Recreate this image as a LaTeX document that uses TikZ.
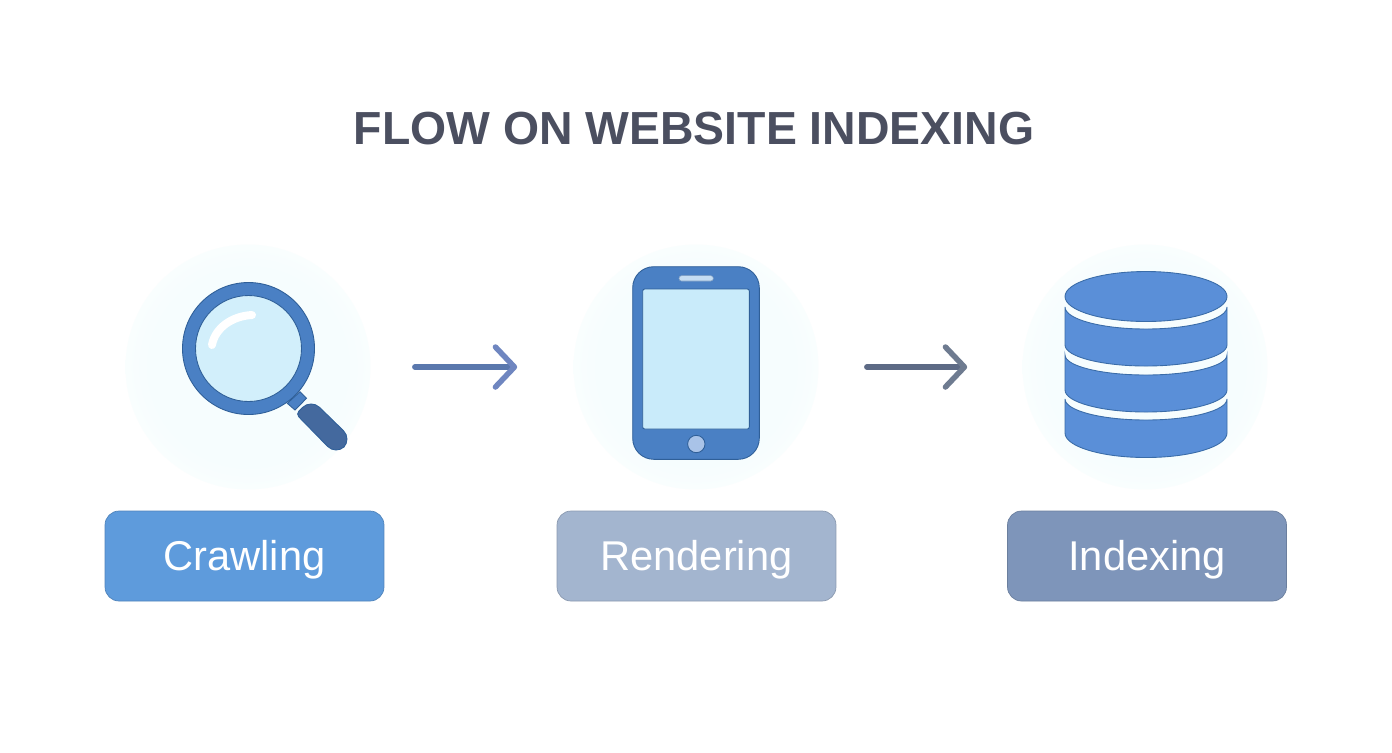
\documentclass[tikz,border=0pt]{standalone}
\usepackage{fontspec}
\setmainfont{Liberation Sans}
\usetikzlibrary{arrows.meta}
\definecolor{titlegray}{HTML}{4B4F60}
\definecolor{halotint}{HTML}{F6FDFE}
\definecolor{iconblue}{HTML}{4A80C4}
\definecolor{iconedge}{HTML}{2F5F98}
\definecolor{handleblue}{HTML}{44699E}
\definecolor{lensblue}{HTML}{D2EFFB}
\definecolor{screenblue}{HTML}{C9EBFA}
\definecolor{slotblue}{HTML}{C5DDF3}
\definecolor{homeblue}{HTML}{A9C3E8}
\definecolor{diskblue}{HTML}{5A8FD8}
\definecolor{diskedge}{HTML}{3A6CA8}
\definecolor{crawlfill}{HTML}{5E9BDC}
\definecolor{renderfill}{HTML}{A3B5CF}
\definecolor{indexfill}{HTML}{7E95BA}
\definecolor{arrowone}{HTML}{5A78AD}
\definecolor{headone}{HTML}{6F86C0}
\definecolor{arrowtwo}{HTML}{5D6A85}
\definecolor{headtwo}{HTML}{6E7B90}
\pgfdeclareradialshading{halofade}{\pgfpointorigin}{color(0bp)=(halotint); color(20bp)=(halotint); color(34bp)=(white); color(50bp)=(white)}
\tikzset{
  halo/.style = {circle, inner sep = 0, minimum size = 4.9cm, shading = halofade},
  stagebox/.style = {rounded corners = 0.28cm, minimum width = 5.58cm, minimum height = 1.8cm, draw = #1!85!black, fill = #1, line width = 0.4pt, text = white, text height = 0.78cm, text depth = 0.2cm, font = \fontsize{23.7}{25}\selectfont},
  icon/.style = {fill = iconblue, draw = iconedge, line width = 0.5pt},
  disk/.style = {fill = diskblue, draw = diskedge, line width = 0.5pt},
  flow/.style = {line width = 0.11cm, line cap = round, draw = #1}
}
\begin{document}
\begin{tikzpicture}[x = 0.02cm, y = -0.02cm]
        \useasboundingbox (0,0) rectangle (1392,752);
        \fill [white] (0,0) rectangle (1392,752);
        \node [text = titlegray, font = \bfseries\fontsize{26.4}{28}\selectfont] (title) at (694,129) {FLOW ON WEBSITE INDEXING};
        % halos
        \node [halo] (crawlhalo) at (248,367) {};
        \node [halo] (renderhalo) at (696,367) {};
        \node [halo] (indexhalo) at (1145,367) {};
        % magnifier
        \draw [icon] (300,391.7) -- (306.5,398.3) -- (295,410) -- (287.3,403.3) -- cycle;
        \draw [fill = handleblue, draw = iconedge, line width = 0.5pt, rounded corners = 0.08cm] (311,399) -- (296,414) [rounded corners = 0.24cm] -- (336,455) -- (352,439) -- cycle;
        \draw [icon] (248.5,348.5) circle [radius = 66];
        \draw [fill = lensblue, draw = iconedge, line width = 0.5pt] (248.5,348.5) circle [radius = 53];
        \draw [white, line width = 0.16cm, line cap = round] (212,345) .. controls (215,328) and (232,316) .. (252,315);
        % phone
        \draw [icon, rounded corners = 0.42cm] (632.7,266.7) rectangle (759.3,459.3);
        \draw [fill = screenblue, draw = iconedge, line width = 0.5pt, rounded corners = 0.04cm] (642.7,289) rectangle (749.3,429);
        \draw [fill = slotblue, draw = iconedge!60, line width = 0.3pt, rounded corners = 0.05cm] (679,275.7) rectangle (713.3,281);
        \draw [fill = homeblue, draw = iconedge, line width = 0.5pt] (696.3,444) circle [radius = 8.7];
        % database
        \draw [disk] (1065,399) arc [start angle = 180, end angle = 0, x radius = 81, y radius = 21] -- (1227,433) arc [start angle = 0, end angle = 180, x radius = 81, y radius = 24.5] -- cycle;
        \draw [disk] (1065,355) arc [start angle = 180, end angle = 0, x radius = 81, y radius = 20] -- (1227,390) arc [start angle = 0, end angle = 180, x radius = 81, y radius = 22] -- cycle;
        \draw [disk] (1065,307) arc [start angle = 180, end angle = 0, x radius = 81, y radius = 22] -- (1227,345) arc [start angle = 0, end angle = 180, x radius = 81, y radius = 21] -- cycle;
        \draw [disk] (1146,296.5) ellipse [x radius = 81, y radius = 25];
        % arrows
        \draw [flow = arrowone, shorten <= 0.88cm, shorten >= 1.12cm, -{Straight Barb[length = 0.38cm, width = 0.8cm, round, color = headone]}] (crawlhalo) -- (renderhalo);
        \draw [flow = arrowtwo, shorten <= 0.96cm, shorten >= 1.1cm, -{Straight Barb[length = 0.38cm, width = 0.8cm, round, color = headtwo]}] (renderhalo) -- (indexhalo);
        % labels
        \node [stagebox = crawlfill] (crawling) at (244.5,556) {Crawling};
        \node [stagebox = renderfill] (rendering) at (696.5,556) {Rendering};
        \node [stagebox = indexfill] (indexing) at (1147,556) {Indexing};
\end{tikzpicture}
\end{document}
